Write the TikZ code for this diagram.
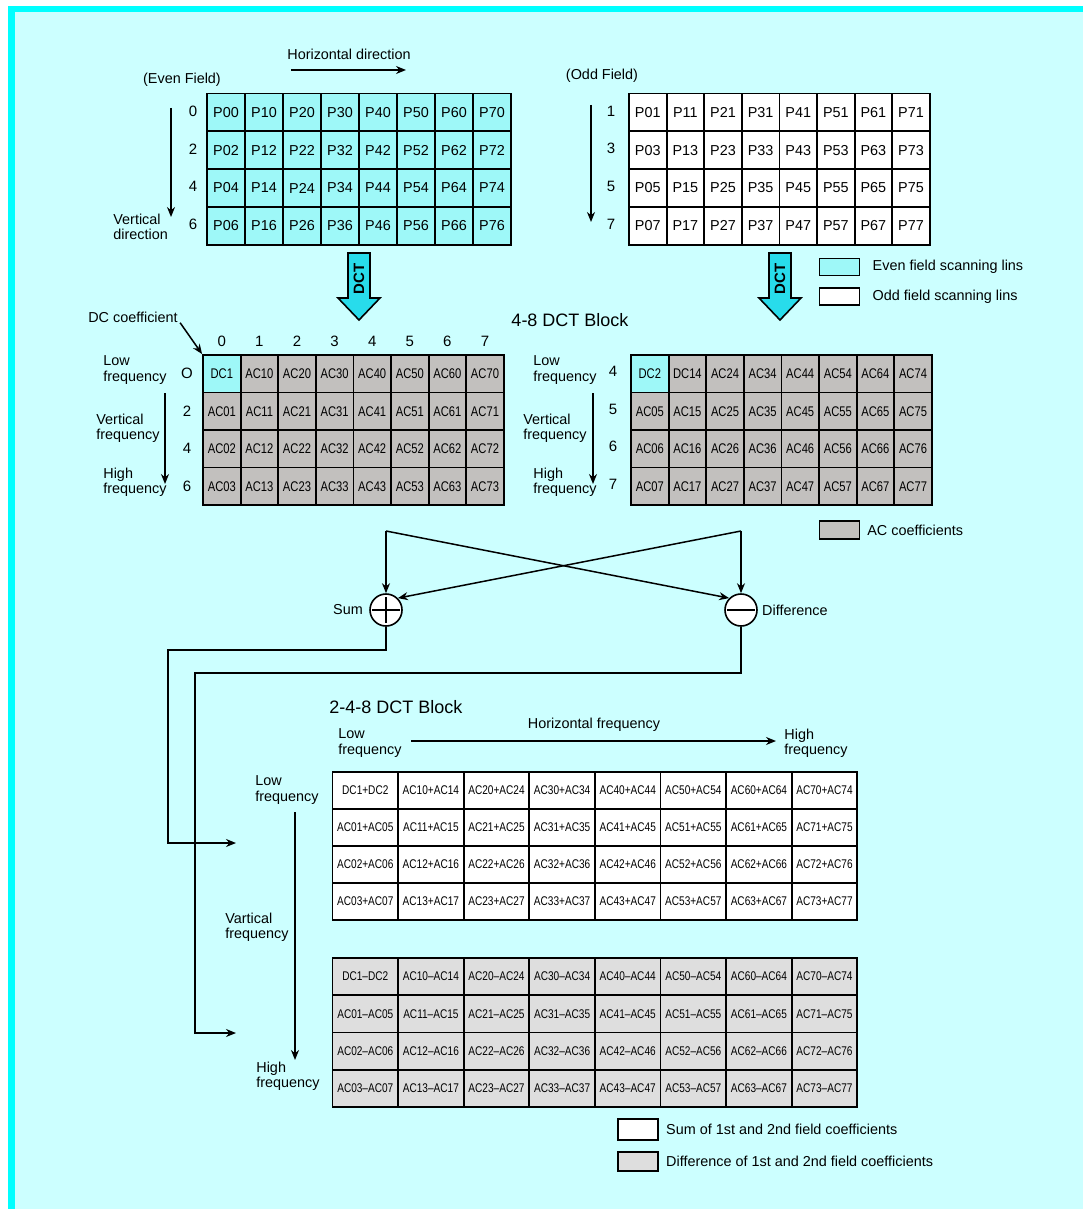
\documentclass[tikz,border=0pt]{standalone}
\usepackage{fontspec}
\setmainfont{Liberation Sans}
\newfontfamily\narrowfont[FakeStretch=0.8]{Liberation Sans}
\usetikzlibrary{arrows.meta, positioning, calc}

\definecolor{pagecyan}{RGB}{204,255,255}
\definecolor{barcyan}{RGB}{0,255,255}
\definecolor{fieldcyan}{RGB}{158,248,248}
\definecolor{dctcyan}{RGB}{40,220,235}
\definecolor{acgray}{RGB}{194,192,190}
\definecolor{diffgray}{RGB}{222,222,222}

\begin{document}
\begin{tikzpicture}[
      x=0.5pt, y=-0.5pt,
      lbl/.style={inner sep=0pt, align=left, font=\fontsize{7.2pt}{7.6pt}\selectfont},
      ttl/.style={inner sep=0pt, font=\fontsize{9pt}{10pt}\selectfont},
      num/.style={inner sep=0pt, font=\fontsize{7.5pt}{8pt}\selectfont},
      pcell/.style={draw, line width=0.9pt, minimum width=18.8pt,
        minimum height=18.9pt, inner sep=0pt, font=\fontsize{7.2pt}{8pt}\selectfont},
      accell/.style={draw, line width=0.9pt, minimum width=18.8pt,
        minimum height=18.75pt, inner sep=0pt, fill=acgray,
        font=\narrowfont\fontsize{7pt}{8pt}\selectfont},
      bigcell/.style={draw, line width=0.9pt, minimum width=32.8pt,
        minimum height=18.6pt, inner sep=0pt,
        font=\narrowfont\fontsize{6.3pt}{7pt}\selectfont},
      swatch/.style={draw, line width=0.8pt, minimum width=20pt,
        minimum height=8.5pt, inner sep=0pt},
      mixer/.style={circle, draw, line width=0.8pt, fill=white,
        minimum size=16pt, inner sep=0pt},
      dctbox/.style={line width=0.8pt, fill=dctcyan},
      flecha/.style={-{Stealth[length=5pt,width=4pt]}, line width=0.75pt}
    ]
      \useasboundingbox (0,0) rectangle (1083,1209);
      \fill[white] (0,0) rectangle (1083,1209);
      \fill[pagecyan] (8,6) rectangle (1083,1209);
      \fill[barcyan] (8,6) rectangle (1083,12);
      \fill[barcyan] (8,6) rectangle (15,1209);

      % even and odd fields
      \node[lbl] (hdir) at (349,54) {Horizontal direction};
      \coordinate (hdirA) at (291,70);
      \coordinate (hdirB) at (406,70);
      \draw[flecha] (hdirA) -- (hdirB);
      \node[lbl] (evenlab) at (182,80) {(Even Field)};
      \node[lbl] (oddlab) at (602,76) {(Odd Field)};
      \node[lbl, anchor=west] (vdir) at (113,227) {Vertical\\direction};
      \coordinate (evTop) at (171,108);
      \coordinate (evBot) at (171,217);
      \draw[flecha] (evTop) -- (evBot);
      \coordinate (odTop) at (591,105);
      \coordinate (odBot) at (591,222);
      \draw[flecha] (odTop) -- (odBot);

      \foreach \c in {0,...,7}
        \foreach \r/\d in {0/0,1/2,2/4,3/6}
          \node[pcell, fill=fieldcyan, minimum width=19pt] (ev\c\r)
            at ({226+38*\c},{112.4+37.8*\r}) {P\c\d};
      \foreach \c in {0,...,7}
        \foreach \r/\d in {0/1,1/3,2/5,3/7}
          \node[pcell, fill=white] (od\c\r)
            at ({647.8+37.6*\c},{112.4+37.8*\r}) {P\c\d};
      \foreach \r/\d in {0/0,1/2,2/4,3/6}
        \node[num] (evrow\r) at (193,{111+37.8*\r}) {\d};
      \foreach \r/\d in {0/1,1/3,2/5,3/7}
        \node[num] (odrow\r) at (611,{111+37.8*\r}) {\d};

      % DCT arrows
      \draw[dctbox] (348,253) -- (370,253) -- (370,298) -- (380,298)
        -- (359,320) -- (338,298) -- (348,298) -- cycle;
      \node[rotate=90, inner sep=0pt, font=\bfseries\fontsize{7.5pt}{8pt}\selectfont]
        (dctL) at (359,279) {DCT};
      \draw[dctbox] (769,253) -- (791,253) -- (791,298) -- (801,298)
        -- (780,320) -- (759,298) -- (769,298) -- cycle;
      \node[rotate=90, inner sep=0pt, font=\bfseries\fontsize{7.5pt}{8pt}\selectfont]
        (dctR) at (780,279) {DCT};

      \node[swatch, fill=fieldcyan] (legEven) at (839.5,267) {};
      \node[lbl, right=6pt of legEven] (legEvenTxt) {Even field scanning lins};
      \node[swatch, fill=white] (legOdd) at (839.5,296.5) {};
      \node[lbl, right=6pt of legOdd] (legOddTxt) {Odd field scanning lins};

      % 4-8 DCT blocks
      \node[ttl] (blk48) at (570,320) {4-8 DCT Block};
      \node[lbl] (dclab) at (133,317) {DC coefficient};
      \foreach \c in {0,...,7}
        \node[num] (colnum\c) at ({221.8+37.6*\c},341) {\c};

      \node[accell, fill=fieldcyan] (L00) at (221.8,373.75) {DC1};
      \foreach \c in {1,...,7}
        \node[accell] (L\c0) at ({221.8+37.6*\c},373.75) {AC\c0};
      \foreach \c in {0,...,7}
        \foreach \r in {1,2,3}
          \node[accell] (L\c\r) at ({221.8+37.6*\c},{373.75+37.5*\r}) {AC\c\r};
      \draw[flecha] ([xshift=1pt]dclab.south east) -- (L00.north west);

      \node[accell, fill=fieldcyan] (R00) at (649.8,373.75) {DC2};
      \node[accell] (R10) at (687.4,373.75) {DC14};
      \foreach \c in {2,...,7}
        \node[accell] (R\c0) at ({649.8+37.6*\c},373.75) {AC\c4};
      \foreach \c in {0,...,7}
        \foreach \r/\d in {1/5,2/6,3/7}
          \node[accell] (R\c\r) at ({649.8+37.6*\c},{373.75+37.5*\r}) {AC\c\d};

      \foreach \r/\d in {0/O,1/2,2/4,3/6}
        \node[num] (Lrow\r) at (187,{373.75+37.5*\r}) {\d};
      \foreach \r/\d in {0/4,1/5,2/6,3/7}
        \node[num] (Rrow\r) at (613,{371.75+37.5*\r}) {\d};

      \node[lbl, anchor=west] (lowL) at (103,370) {Low\\frequency};
      \node[lbl, anchor=west] (vertL) at (96,428) {Vertical\\frequency};
      \node[lbl, anchor=west] (highL) at (103,482) {High\\frequency};
      \coordinate (LvTop) at (165,393);
      \coordinate (LvBot) at (165,484);
      \draw[flecha] (LvTop) -- (LvBot);
      \node[lbl, anchor=west] (lowR) at (533,370) {Low\\frequency};
      \node[lbl, anchor=west] (vertR) at (523,428) {Vertical\\frequency};
      \node[lbl, anchor=west] (highR) at (533,482) {High\\frequency};
      \coordinate (RvTop) at (593,393);
      \coordinate (RvBot) at (593,484);
      \draw[flecha] (RvTop) -- (RvBot);

      \node[swatch, fill=acgray, minimum height=9pt] (legAC) at (839.5,530) {};
      \node[lbl, right=3.3pt of legAC] (legACTxt) {AC coefficients};

      % sum and difference
      \node[mixer] (sum) at (386,610) {};
      \draw[line width=0.8pt] ([xshift=1.5pt]sum.west) -- ([xshift=-1.5pt]sum.east)
        ([yshift=-2pt]sum.north) -- ([yshift=2pt]sum.south);
      \node[lbl, left=3pt of sum] (sumlab) {Sum};
      \node[mixer] (diff) at (741,610) {};
      \draw[line width=0.8pt] ([xshift=1.5pt]diff.west) -- ([xshift=-1.5pt]diff.east);
      \node[lbl, right=2pt of diff] (difflab) {Difference};

      \coordinate (crossL) at (386,531);
      \coordinate (crossR) at (741,531);
      \draw[flecha] (crossL) -- (sum);
      \draw[flecha] (crossL) -- (diff.north west);
      \draw[flecha] (crossR) -- (diff);
      \draw[flecha] (crossR) -- (sum.north east);

      \coordinate (sumTurn) at (168,650);
      \coordinate (sumIn) at (236,843);
      \draw[flecha] (sum) |- (sumTurn) |- (sumIn);
      \coordinate (diffTurn) at (195,673);
      \coordinate (diffIn) at (236,1033);
      \draw[flecha] (diff) |- (diffTurn) |- (diffIn);

      % 2-4-8 DCT block
      \node[ttl] (blk248) at (396,707) {2-4-8 DCT Block};
      \node[lbl] (hfreq) at (594,725) {Horizontal frequency};
      \node[lbl, anchor=west] (lowH) at (338,743) {Low\\frequency};
      \node[lbl, anchor=west] (highH) at (784,743) {High\\frequency};
      \coordinate (hfA) at (411,741);
      \coordinate (hfB) at (776,741);
      \draw[flecha] (hfA) -- (hfB);
      \node[lbl, anchor=west] (lowV) at (255,790) {Low\\frequency};
      \node[lbl, anchor=west] (vertV) at (225,927) {Vartical\\frequency};
      \node[lbl, anchor=west] (highV) at (256,1076) {High\\frequency};
      \coordinate (vfA) at (295,812);
      \coordinate (vfB) at (295,1060);
      \draw[flecha] (vfA) -- (vfB);

      \node[bigcell, fill=white] (S00) at (365.3,790.25) {DC1+DC2};
      \foreach \c in {1,...,7}
        \node[bigcell, fill=white] (S\c0) at ({365.3+65.6*\c},790.25) {AC\c0+AC\c4};
      \foreach \c in {0,...,7}
        \foreach \r/\s in {1/5,2/6,3/7}
          \node[bigcell, fill=white] (S\c\r) at ({365.3+65.6*\c},{790.25+37.1*\r})
            {AC\c\r+AC\c\s};

      \node[bigcell, fill=diffgray] (D00) at (365.3,976.6) {DC1–DC2};
      \foreach \c in {1,...,7}
        \node[bigcell, fill=diffgray] (D\c0) at ({365.3+65.6*\c},976.6) {AC\c0–AC\c4};
      \foreach \c in {0,...,7}
        \foreach \r/\s in {1/5,2/6,3/7}
          \node[bigcell, fill=diffgray] (D\c\r) at ({365.3+65.6*\c},{976.6+37.2*\r})
            {AC\c\r–AC\c\s};

      \node[swatch, fill=white, minimum height=10.5pt] (legSum) at (638,1129.5) {};
      \node[lbl, right=3.5pt of legSum] (legSumTxt) {Sum of 1st and 2nd field coefficients};
      \node[swatch, fill=diffgray, minimum height=9.5pt] (legDiff) at (638,1161.5) {};
      \node[lbl, right=3.5pt of legDiff] (legDiffTxt) {Difference of 1st and 2nd field coefficients};
    \end{tikzpicture}
\end{document}
